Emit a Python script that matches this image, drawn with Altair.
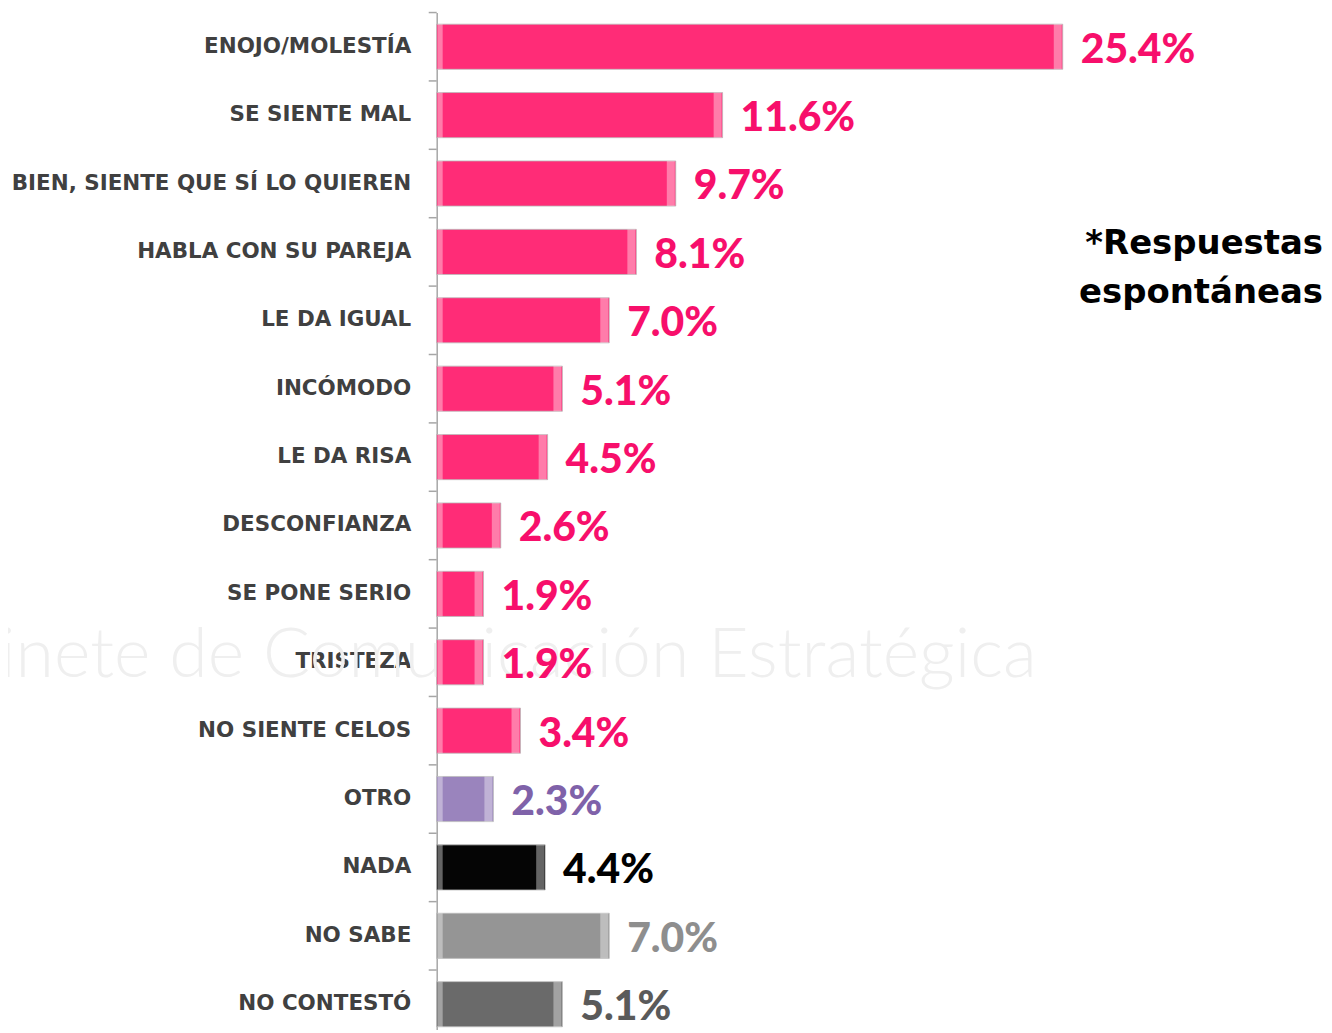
import altair as alt
import pandas as pd

categories = [
    "ENOJO/MOLESTÍA", "SE SIENTE MAL", "BIEN, SIENTE QUE SÍ LO QUIEREN",
    "HABLA CON SU PAREJA", "LE DA IGUAL", "INCÓMODO", "LE DA RISA",
    "DESCONFIANZA", "SE PONE SERIO", "TRISTEZA", "NO SIENTE CELOS",
    "OTRO", "NADA", "NO SABE", "NO CONTESTÓ",
]
values = [25.4, 11.6, 9.7, 8.1, 7.0, 5.1, 4.5, 2.6, 1.9, 1.9, 3.4, 2.3, 4.4, 7.0, 5.1]
groups = [
    "respuesta", "respuesta", "respuesta", "respuesta", "respuesta", "respuesta",
    "respuesta", "respuesta", "respuesta", "respuesta", "respuesta",
    "otro", "nada", "no sabe", "no contestó",
]
group_order = ["respuesta", "otro", "nada", "no sabe", "no contestó"]
bar_colors = ["#FF2C77", "#9A84BD", "#050505", "#959595", "#6A6A6A"]
text_colors = ["#F70F6B", "#7F62A9", "#000000", "#8E8E8E", "#5A5A5A"]
note_lines = ["*Respuestas", "espontáneas"]
watermark = "Gabinete de  Comunicación  Estratégica"

df = pd.DataFrame({"categoria": categories, "valor": values, "grupo": groups})

y_enc = alt.Y(
    "categoria:N",
    sort=categories,
    title=None,
    scale=alt.Scale(range=[0, 1029], paddingInner=0.34, paddingOuter=0.17),
    axis=alt.Axis(
        ticks=False,
        grid=False,
        domainColor="#A6A6A6",
        domainWidth=1.5,
        labelFont="DejaVu Sans",
        labelFontWeight="bold",
        labelFontSize=21.5,
        labelColor="#404040",
        labelPadding=26,
        labelLimit=600,
    ),
)
x_scale = alt.Scale(domain=[0, 36], nice=False, zero=True)
x_enc = alt.X("valor:Q", scale=x_scale, axis=None, title=None)

base = alt.Chart(df)

wm = alt.Chart(pd.DataFrame({"t": [watermark]})).mark_text(
    align="right", baseline="alphabetic", font="Lato", fontWeight=300,
    fontSize=70, color="#EFEFEF",
).encode(x=alt.value(602), y=alt.value(666), text="t:N")

bars = base.mark_bar(stroke="#BBBBBB", strokeOpacity=0.8, strokeWidth=1).encode(
    x=x_enc,
    y=y_enc,
    color=alt.Color("grupo:N", scale=alt.Scale(domain=group_order, range=bar_colors), legend=None),
)

left_bevel = base.transform_calculate(cero="0").mark_bar(
    fill="white", opacity=0.38, xOffset=1, x2Offset=6
).encode(
    x=alt.X("cero:Q", scale=x_scale, axis=None),
    x2="cero:Q",
    y=alt.Y("categoria:N", sort=categories),
)

right_bevel = base.mark_bar(
    fill="white", opacity=0.38, xOffset=-9, x2Offset=-1
).encode(
    x=x_enc,
    x2="valor:Q",
    y=alt.Y("categoria:N", sort=categories),
)

ticks = base.mark_rule(color="#A6A6A6", strokeWidth=1.5, yOffset=-34.3).encode(
    y=alt.Y("categoria:N", sort=categories),
    x=alt.value(-8),
    x2=alt.value(0),
)

labels = base.transform_calculate(
    etiqueta="format(datum.valor, '.1f') + '%'"
).mark_text(
    align="left", baseline="alphabetic", dx=18, dy=16,
    font="Lato", fontWeight=900, fontSize=41,
).encode(
    x=x_enc,
    y=alt.Y("categoria:N", sort=categories),
    text="etiqueta:N",
    color=alt.Color("grupo:N", scale=alt.Scale(domain=group_order, range=text_colors), legend=None),
)

note1 = alt.Chart(pd.DataFrame({"t": [note_lines[0]]})).mark_text(
    align="right", baseline="alphabetic", font="DejaVu Sans", fontWeight="bold",
    fontSize=34, color="#000000",
).encode(x=alt.value(889), y=alt.value(242), text="t:N")

note2 = alt.Chart(pd.DataFrame({"t": [note_lines[1]]})).mark_text(
    align="right", baseline="alphabetic", font="DejaVu Sans", fontWeight="bold",
    fontSize=34, color="#000000",
).encode(x=alt.value(889), y=alt.value(291), text="t:N")

chart = alt.layer(
    wm, bars, left_bevel, right_bevel, ticks, labels, note1, note2
).resolve_scale(color="independent").properties(
    width=890,
    height=1019,
    background="white",
    autosize=alt.AutoSizeParams(type="none"),
    padding={"left": 430, "top": 3, "right": 0, "bottom": 0},
).configure_view(stroke=None, strokeWidth=0)

chart.save("out.html", embed_options={"renderer": "svg", "actions": False})
